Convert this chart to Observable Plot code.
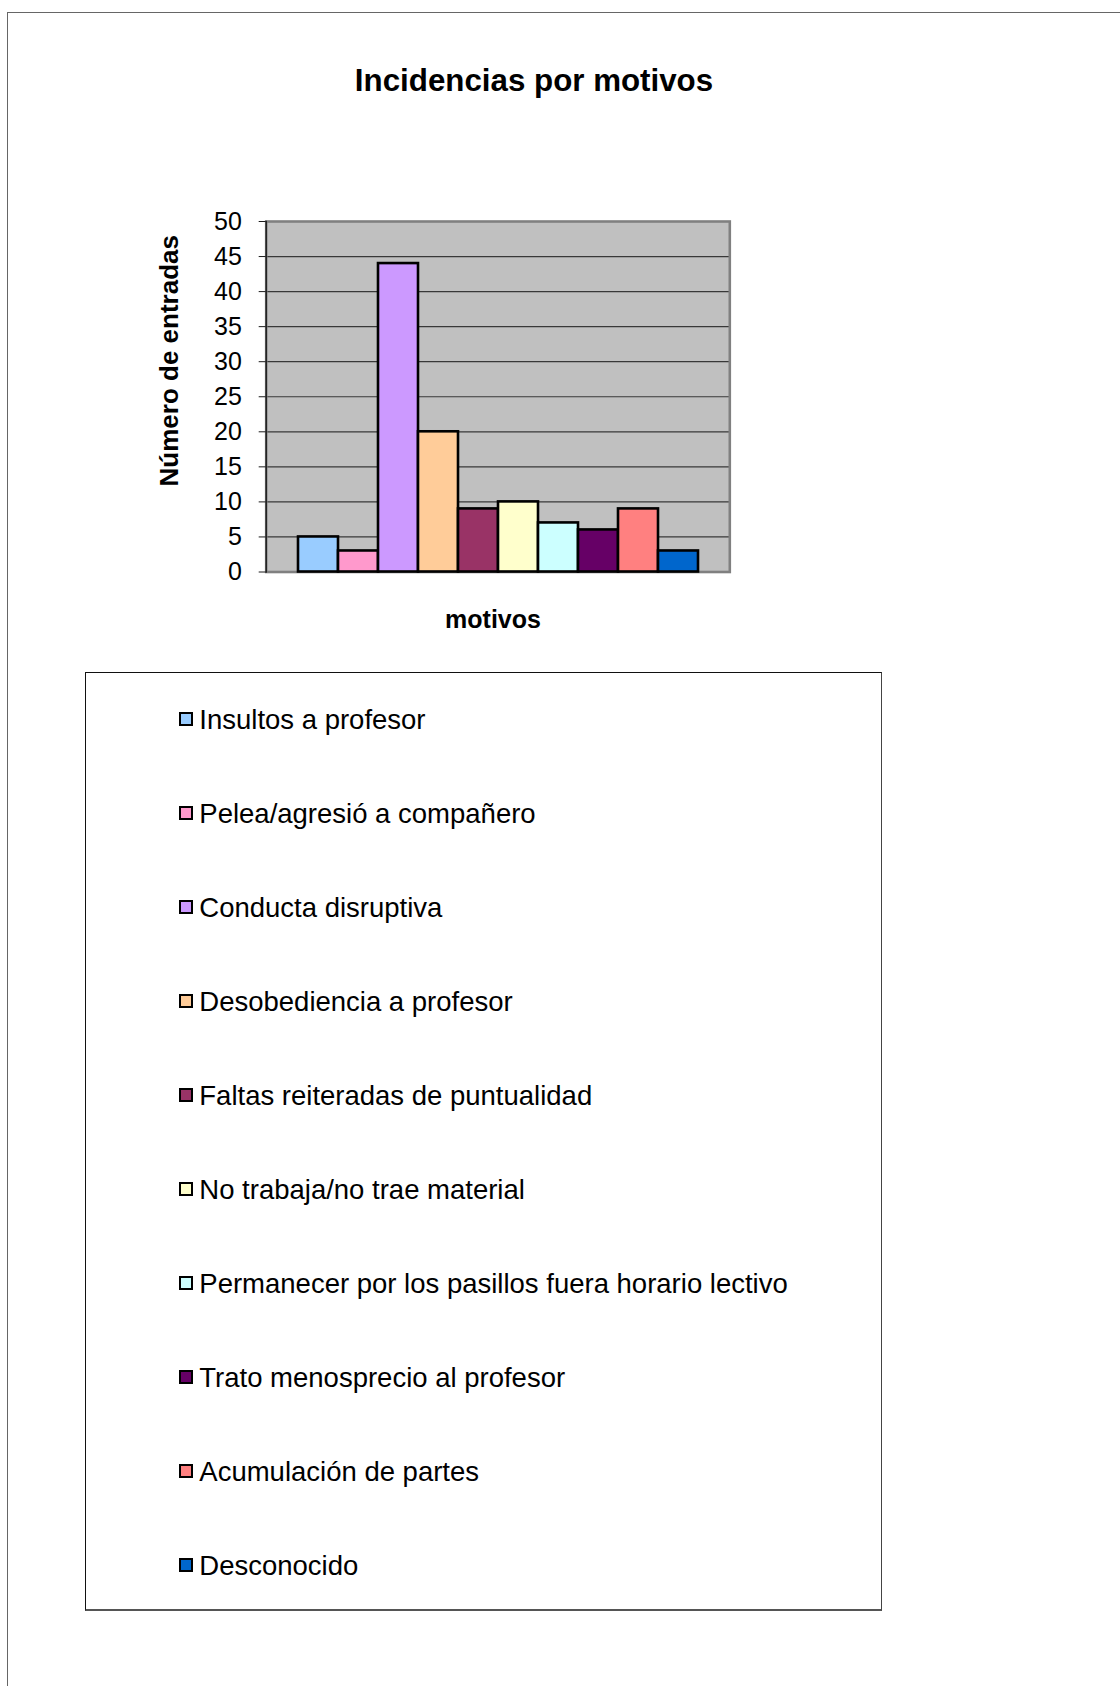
<!DOCTYPE html>
<html>
<head>
<meta charset="utf-8">
<script src="https://cdn.jsdelivr.net/npm/d3@7"></script>
<script src="https://cdn.jsdelivr.net/npm/@observablehq/plot@0.6"></script>
<style>
html, body { margin: 0; padding: 0; background: #fff; }
body { width: 1120px; height: 1686px; position: relative; overflow: hidden; font-family: "Liberation Sans", Arial, sans-serif; color: #000; }
#frame { position: absolute; left: 7px; top: 12px; width: 1200px; height: 1800px; border: 1.5px solid #666; box-sizing: border-box; }
#title { position: absolute; left: 534px; top: 65px; transform: translateX(-50%); font-weight: bold; font-size: 31.3px; line-height: 31px; white-space: nowrap; }
#chart { position: absolute; left: 0; top: 0; }
#legend { position: absolute; left: 85px; top: 672px; width: 797px; height: 939px; border: 1px solid #111; border-right-color: #444; border-bottom: 2px solid #555; box-sizing: border-box; background: #fff; }
.row { position: absolute; left: 0; height: 27px; }
.sw { position: absolute; left: 92.5px; top: 6.5px; width: 14px; height: 14px; border: 2px solid #000; box-sizing: border-box; }
.lab { position: absolute; left: 113.3px; top: 0; font-size: 27.5px; line-height: 27px; white-space: nowrap; }
</style>
</head>
<body>
<div id="frame"></div>
<div id="title"></div>
<div id="chart"></div>
<div id="legend"></div>
<script>
// ---- data ----
const titleText = "Incidencias por motivos";
const yLabel = "Número de entradas";
const xLabel = "motivos";
const categories = [
  "Insultos a profesor",
  "Pelea/agresió a compañero",
  "Conducta disruptiva",
  "Desobediencia a profesor",
  "Faltas reiteradas de puntualidad",
  "No trabaja/no trae material",
  "Permanecer por los pasillos fuera horario lectivo",
  "Trato menosprecio al profesor",
  "Acumulación de partes",
  "Desconocido"
];
const values = [5, 3, 44, 20, 9, 10, 7, 6, 9, 3];
const colors = ["#99CCFF", "#FF99CC", "#CC99FF", "#FFCC99", "#993366", "#FFFFCC", "#CCFFFF", "#660066", "#FF8080", "#0066CC"];
const yTicks = [0, 5, 10, 15, 20, 25, 30, 35, 40, 45, 50];

// ---- chart ----
document.getElementById("title").textContent = titleText;

const data = categories.map((c, i) => ({motivo: c, valor: values[i]}));
const gridTicks = yTicks.filter(t => t > yTicks[0] && t < yTicks[yTicks.length - 1]);

const W = 1120, H = 660;
const chart = Plot.plot({
  width: W,
  height: H,
  marginLeft: 265.7,
  marginRight: W - 729.3,
  marginTop: 221,
  marginBottom: H - 571.5,
  style: {background: "transparent", fontFamily: "'Liberation Sans', Arial, sans-serif", fontSize: "25px", color: "#000", overflow: "visible"},
  x: {type: "band", domain: categories, paddingInner: 0, paddingOuter: 0.74, axis: null},
  y: {domain: [0, 50]},
  color: {type: "ordinal", domain: categories, range: colors},
  marks: [
    Plot.frame({fill: "#c0c0c0"}),
    Plot.ruleY(gridTicks, {stroke: "#383838", strokeWidth: 1.2}),
    Plot.frame({stroke: "#808080", strokeWidth: 2.6}),
    Plot.barY(data, {x: "motivo", y: "valor", fill: "motivo", stroke: "#000", strokeWidth: 2.6}),
    Plot.frame({anchor: "left", stroke: "#1a1a1a", strokeWidth: 1.4}),
    Plot.axisY({ticks: yTicks, tickSize: 7, tickPadding: 17.4, stroke: "#1a1a1a", fontSize: 25, label: null, tickFormat: d => String(d)}),
    Plot.text([yLabel], {frameAnchor: "left", rotate: -90, textAnchor: "middle", lineAnchor: "middle", dx: -96.7, dy: -36, fontWeight: "bold", fontSize: 26}),
    Plot.text([xLabel], {frameAnchor: "bottom", textAnchor: "middle", lineAnchor: "middle", dx: -5, dy: 48, fontWeight: "bold", fontSize: 25})
  ]
});
document.getElementById("chart").append(chart);

// ---- legend ----
const legend = document.getElementById("legend");
categories.forEach((c, i) => {
  const row = document.createElement("div");
  row.className = "row";
  row.style.top = (32.7 + i * 94) + "px";
  const sw = document.createElement("div");
  sw.className = "sw";
  sw.style.background = colors[i];
  const lab = document.createElement("span");
  lab.className = "lab";
  lab.textContent = c;
  row.append(sw, lab);
  legend.append(row);
});
</script>
</body>
</html>
